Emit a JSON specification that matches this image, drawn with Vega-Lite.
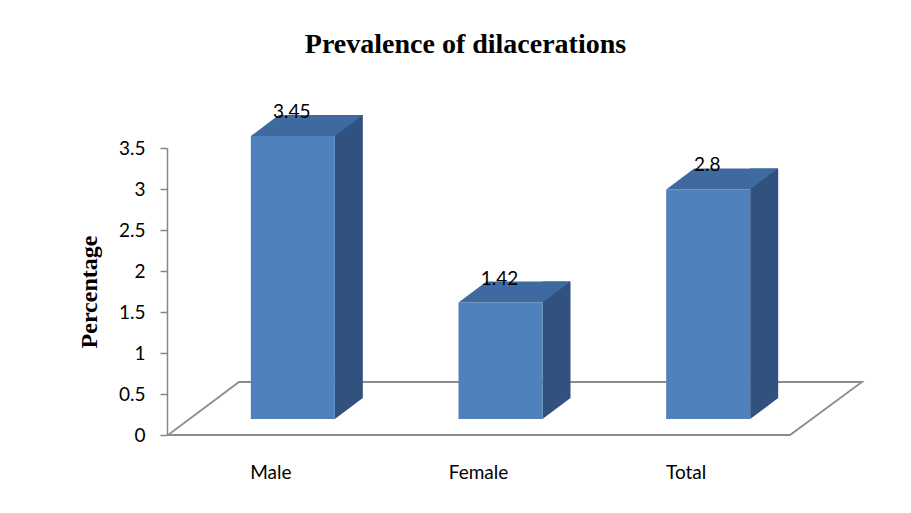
{
  "$schema": "https://vega.github.io/schema/vega-lite/v6.json",
  "width": 623,
  "height": 287,
  "autosize": {"type": "none"},
  "padding": {"left": 167, "top": 148, "right": 121, "bottom": 78},
  "background": "white",
  "config": {"view": {"stroke": null}},
  "title": {
    "text": "Prevalence of dilacerations",
    "font": "Liberation Serif",
    "fontSize": 28,
    "fontWeight": "bold",
    "color": "#000000",
    "anchor": "middle",
    "frame": "group",
    "dx": -13,
    "offset": 44
  },
  "data": {
    "values": [
      {"group": "Male", "value": 3.45},
      {"group": "Female", "value": 1.42},
      {"group": "Total", "value": 2.8}
    ]
  },
  "encoding": {
    "x": {
      "field": "group",
      "type": "nominal",
      "sort": null,
      "scale": {"domain": ["Male", "Female", "Total"], "paddingInner": 0.5957, "paddingOuter": 0.2978},
      "axis": {
        "title": null,
        "domain": false,
        "ticks": false,
        "labelAngle": 0,
        "labelPadding": 28,
        "labelFont": "Lato",
        "labelFontSize": 19,
        "labelColor": "#000000"
      }
    },
    "y": {
      "field": "value",
      "type": "quantitative",
      "scale": {"domain": [0, 3.5], "nice": false},
      "axis": {
        "title": "Percentage",
        "titleFont": "Liberation Serif",
        "titleFontWeight": "bold",
        "titleFontSize": 24,
        "titleColor": "#000000",
        "titlePadding": 17,
        "values": [0, 0.5, 1, 1.5, 2, 2.5, 3, 3.5],
        "format": "~g",
        "grid": false,
        "domainColor": "#868686",
        "domainWidth": 1.5,
        "tickColor": "#868686",
        "tickWidth": 1.5,
        "tickSize": 7,
        "labelPadding": 15,
        "labelFont": "Lato",
        "labelFontSize": 19,
        "labelColor": "#000000"
      }
    }
  },
  "layer": [
    {
      "transform": [{"filter": "datum.group === 'Female'"}],
      "mark": {
        "type": "point",
        "shape": "M-1,0.0764L0.7925,0.0764L1,-0.0764L-0.7954,-0.0764Z",
        "size": 481636,
        "filled": false,
        "color": "#8C8C8C",
        "strokeWidth": 1.8,
        "opacity": 1,
        "xOffset": 36.5,
        "yOffset": -26.5
      },
      "encoding": {
        "y": {"datum": 0}
      }
    },
    {
      "mark": {
        "type": "bar",
        "width": 28,
        "xOffset": 78,
        "yOffset": -37,
        "y2Offset": -37,
        "color": "#31527F"
      },
      "encoding": {"y2": {"datum": 0}}
    },
    {
      "mark": {
        "type": "point",
        "shape": "M-1,-0.75L-1,0.75L1,-0.75Z",
        "size": 784,
        "filled": true,
        "opacity": 1,
        "color": "#31527F",
        "strokeWidth": 0,
        "xOffset": 78,
        "yOffset": -26.5
      },
      "encoding": {"y": {"datum": 0}}
    },
    {
      "mark": {
        "type": "bar",
        "width": 84,
        "xOffset": 22,
        "yOffset": -16,
        "y2Offset": -16,
        "color": "#4F81BD"
      },
      "encoding": {"y2": {"datum": 0}}
    },
    {
      "mark": {
        "type": "point",
        "shape": "M-1,0.1875L0.5,0.1875L1,-0.1875L-0.5,-0.1875Z",
        "size": 12544,
        "filled": true,
        "opacity": 1,
        "color": "#3E6A9F",
        "strokeWidth": 0,
        "xOffset": 36,
        "yOffset": -26.5
      }
    },
    {
      "mark": {
        "type": "text",
        "font": "Lato",
        "fontSize": 19,
        "color": "#000000",
        "baseline": "middle",
        "align": "center",
        "xOffset": 21,
        "yOffset": -40
      },
      "encoding": {
        "text": {"field": "value", "type": "quantitative", "format": "~g"}
      }
    }
  ]
}
